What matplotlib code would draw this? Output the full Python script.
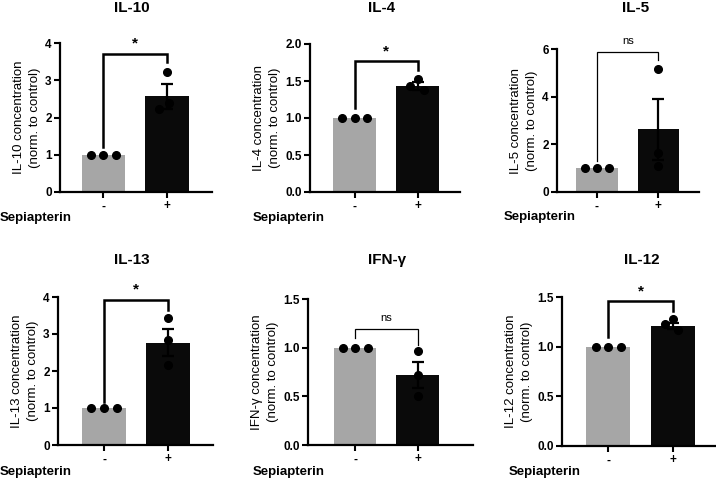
import numpy as np
import matplotlib
matplotlib.use('Agg')
import matplotlib.pyplot as plt

plt.rcParams.update({'font.family': ['Liberation Sans', 'DejaVu Sans']})

# data
cytokines = ['IL-10', 'IL-4', 'IL-5', 'IL-13', 'IFN-γ', 'IL-12']
control_pts = [1.0, 1.0, 1.0]
treat_pts = [[3.22, 2.38, 2.22],
             [1.53, 1.43, 1.38],
             [5.15, 1.63, 1.11],
             [3.42, 2.83, 2.16],
             [0.97, 0.72, 0.50],
             [1.28, 1.23, 1.17]]
treat_mean = [2.57, 1.43, 2.63, 2.77, 0.72, 1.21]
treat_sem = [0.33, 0.05, 1.27, 0.37, 0.13, 0.03]
signif = ['*', '*', 'ns', '*', 'ns', '*']
# bracket: top, left leg end, right leg end
brackets = [(3.71, 1.22, 3.49), (1.77, 1.13, 1.65), (5.88, 1.28, 5.53),
            (3.93, 1.17, 3.64), (1.19, 1.10, 1.03), (1.455, 1.10, 1.355)]
yticks = [[0, 1, 2, 3, 4], [0, 0.5, 1.0, 1.5, 2.0], [0, 2, 4, 6],
          [0, 1, 2, 3, 4], [0, 0.5, 1.0, 1.5], [0, 0.5, 1.0, 1.5]]
tick_fmt = ['{:.0f}', '{:.1f}', '{:.0f}', '{:.0f}', '{:.1f}', '{:.1f}']
xlabels = ['-', '+']

# layout in pixels: left, right, top, bottom
W, H = 716, 479
rects = [(60, 212, 43, 192), (310, 460, 44, 192), (557, 699, 49, 192),
         (58, 213, 297, 445), (308, 473, 299, 445), (562, 716, 297, 446)]
xlims = [(-0.685, 1.71), (-0.71, 1.67), (-0.65, 1.66),
         (-0.72, 1.70), (-0.75, 1.88), (-0.72, 1.67)]
title_pos = [(132, 8), (382, 8), (636, 8), (132, 260), (387, 260), (642, 260)]
sepi_pos = [(0, 218), (253, 218), (504, 217), (0, 472), (253, 472), (509, 472)]
treat_dx = [[0.0, 0.04, -0.12], [0.0, -0.12, 0.1], [0.0, 0.0, 0.0],
            [0.0, 0.0, 0.0], [0.0, 0.0, 0.0], [0.0, -0.12, 0.08]]

fig = plt.figure(figsize=(W / 100, H / 100), dpi=100)
bw = 0.68
for i, name in enumerate(cytokines):
    l, r, t, b = rects[i]
    ax = fig.add_axes([l / W, 1 - b / H, (r - l) / W, (b - t) / H])
    ax.bar(0, 1.0, width=bw, color='#a6a6a6', zorder=1)
    ax.bar(1, treat_mean[i], width=bw, color='#0a0a0a', zorder=1)
    ax.errorbar(1, treat_mean[i], yerr=treat_sem[i], color='black', lw=1.6,
                capsize=4, capthick=1.6, zorder=2)
    ax.plot([-0.2, 0, 0.2], control_pts, 'o', color='black', ms=5.5, zorder=3)
    ax.plot(1 + np.array(treat_dx[i]), treat_pts[i], 'o', color='black',
            ms=5.5, zorder=3)

    top, yl, yr = brackets[i]
    lw = 1.8 if signif[i] == '*' else 0.9
    ax.plot([0, 0, 1, 1], [yl, top, top, yr], color='black', lw=lw,
            clip_on=False, solid_joinstyle='miter')
    ymax = yticks[i][-1]
    if signif[i] == '*':
        ax.text(0.5, top + ymax * 0.02, '*', ha='center', va='bottom',
                fontsize=11, fontweight='bold')
    else:
        ax.text(0.5, top + ymax * 0.04, 'ns', ha='center', va='bottom',
                fontsize=8)

    ax.set_xlim(*xlims[i])
    ax.set_ylim(0, ymax)
    ax.set_yticks(yticks[i])
    ax.set_yticklabels([tick_fmt[i].format(v) for v in yticks[i]],
                       fontsize=8.5, fontweight='bold')
    ax.set_xticks([0, 1])
    ax.set_xticklabels(xlabels, fontsize=8.5, fontweight='bold')
    ax.tick_params(axis='both', width=1.5, length=4, pad=2)
    for s in ['top', 'right']:
        ax.spines[s].set_visible(False)
    for s in ['left', 'bottom']:
        ax.spines[s].set_linewidth(1.6)
    ax.set_ylabel(f'{name} concentration\n(norm. to control)', fontsize=9.5,
                  labelpad=3, linespacing=1.4)

    tx, ty = title_pos[i]
    fig.text(tx / W, 1 - ty / H, name, ha='center', va='center',
             fontsize=11, fontweight='bold')
    sx, sy = sepi_pos[i]
    fig.text(sx / W, 1 - sy / H, 'Sepiapterin', ha='left', va='center',
             fontsize=9.5, fontweight='bold')

fig.savefig('out.png', dpi=100)
